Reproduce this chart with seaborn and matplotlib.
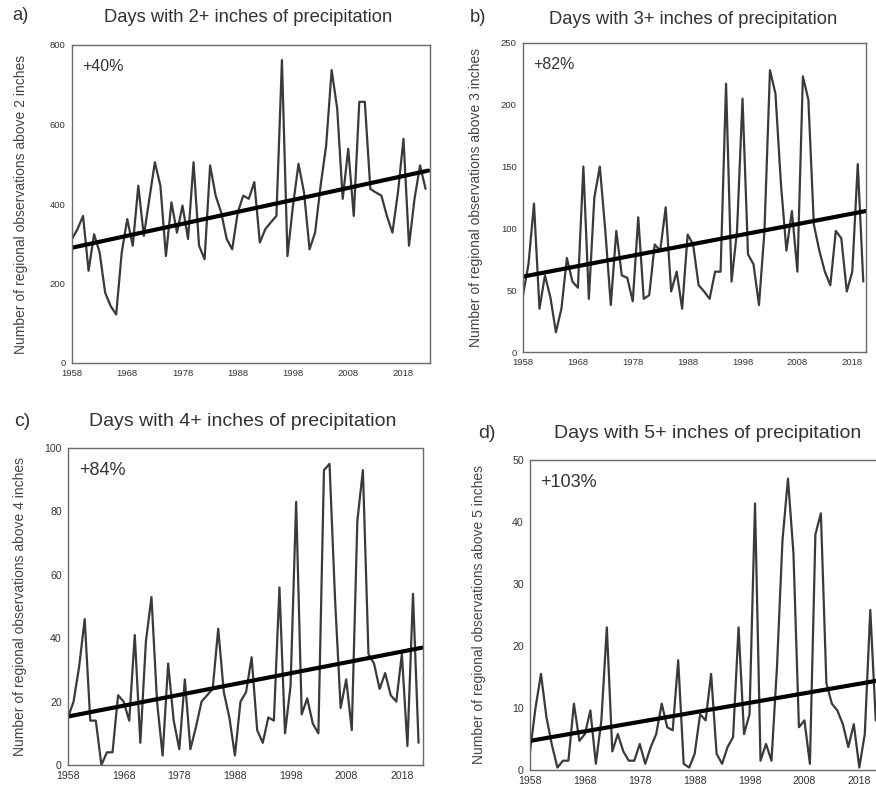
import numpy as np
import pandas as pd
import matplotlib
matplotlib.use("Agg")
import matplotlib.pyplot as plt
import seaborn as sns

# ---------------- data ----------------
years_a = list(range(1958, 2023))
days_2in = [312, 337, 370, 232, 324, 278, 177, 143, 122, 278,
            362, 295, 446, 320, 413, 505, 446, 269, 404, 328,
            396, 312, 505, 295, 261, 497, 421, 379, 312, 286,
            379, 421, 413, 455, 303, 337, 354, 370, 762, 269,
            396, 501, 429, 286, 328, 446, 547, 737, 640, 413,
            539, 370, 657, 657, 438, 429, 421, 370, 328, 429,
            564, 295, 413, 497, 438]

years_b = list(range(1958, 2021))
days_3in = [46, 71, 120, 35, 62, 44, 16, 35, 76, 57,
            52, 150, 43, 125, 150, 98, 38, 98, 62, 60,
            41, 109, 43, 46, 87, 82, 117, 49, 65, 35,
            95, 87, 54, 49, 43, 65, 65, 217, 57, 98,
            205, 79, 71, 38, 98, 228, 209, 136, 82, 114,
            65, 223, 204, 103, 82, 65, 54, 98, 92, 49,
            65, 152, 57]

years_c = list(range(1958, 2022))
days_4in = [15, 20, 31, 46, 14, 14, 0, 4, 4, 22,
            20, 14, 41, 7, 39, 53, 20, 3, 32, 14,
            5, 27, 5, 12, 20, 22, 24, 43, 23, 15,
            3, 20, 23, 34, 11, 7, 15, 14, 56, 10,
            25, 83, 16, 21, 13, 10, 93, 95, 52, 18,
            27, 11, 77, 93, 35, 32, 24, 29, 22, 20,
            35, 6, 54, 7]

years_d = list(range(1958, 2022))
days_5in = [3, 10, 15.5, 8.5, 4, 0.4, 1.5, 1.5, 10.7, 4.7,
            5.8, 9.6, 1, 8, 23, 3, 5.8, 3, 1.5, 1.5,
            4.2, 1, 3.7, 5.8, 10.7, 6.9, 6.4, 17.7, 1, 0.4,
            2.6, 9, 8, 15.5, 2.6, 1, 3.7, 5.3, 23, 5.8,
            9, 43, 1.5, 4.2, 1.5, 16.6, 37, 47, 35, 6.9,
            8, 1, 38, 41.4, 14, 10.7, 9.6, 7.4, 3.7, 7.4,
            0.4, 5.8, 25.8, 8]

# linear trend end values
trend_years_a = [1958, 2022.5]
trend_a = [290, 484]
trend_years_b = [1958, 2020.4]
trend_b = [61, 114]
trend_years_c = [1958, 2021.6]
trend_c = [15.3, 37]
trend_years_d = [1958, 2022.5]
trend_d = [4.7, 14.6]

titles = ["Days with 2+ inches of precipitation",
          "Days with 3+ inches of precipitation",
          "Days with 4+ inches of precipitation",
          "Days with 5+ inches of precipitation"]
panel_tags = ["a)", "b)", "c)", "d)"]
changes = ["+40%", "+82%", "+84%", "+103%"]
ylabels = ["Number of regional observations above 2 inches",
           "Number of regional observations above 3 inches",
           "Number of regional observations above 4 inches",
           "Number of regional observations above 5 inches"]
xtick_years = [1958, 1968, 1978, 1988, 1998, 2008, 2018]
yticks_a = [0, 200, 400, 600, 800]
yticks_b = [0, 50, 100, 150, 200, 250]
yticks_c = [0, 20, 40, 60, 80, 100]
yticks_d = [0, 10, 20, 30, 40, 50]

# ---------------- figure ----------------
sns.set_theme(style="white")
plt.rcParams['font.family'] = ['Liberation Sans', 'DejaVu Sans']

W, H = 876, 794
fig = plt.figure(figsize=(W / 100, H / 100), dpi=100)
fig.patch.set_facecolor("white")


def add_ax(l, t, r, b):
    return fig.add_axes([l / W, 1 - b / H, (r - l) / W, (b - t) / H])


panels = [
    dict(box=(72, 45, 430, 363), years=years_a, vals=days_2in,
         ty=trend_years_a, tv=trend_a, xlim=(1958, 2022.8), yt=yticks_a,
         title_xy=(248, 17), tag_xy=(12, 15), tfs=13.2, tickfs=6.8,
         ylab_x=21, chg_fs=11.5),
    dict(box=(523, 43, 866, 352), years=years_b, vals=days_3in,
         ty=trend_years_b, tv=trend_b, xlim=(1958, 2020.5), yt=yticks_b,
         title_xy=(693, 19), tag_xy=(470, 18), tfs=13.2, tickfs=6.8,
         ylab_x=476, chg_fs=11.5),
    dict(box=(68, 448, 423, 765), years=years_c, vals=days_4in,
         ty=trend_years_c, tv=trend_c, xlim=(1958, 2021.8), yt=yticks_c,
         title_xy=(243, 422), tag_xy=(14, 422), tfs=14, tickfs=7.6,
         ylab_x=20, chg_fs=13),
    dict(box=(530, 460, 884, 770), years=years_d, vals=days_5in,
         ty=trend_years_d, tv=trend_d, xlim=(1958, 2022.5), yt=yticks_d,
         title_xy=(708, 433), tag_xy=(478, 433), tfs=14, tickfs=7.6,
         ylab_x=479, chg_fs=13),
]

for i, p in enumerate(panels):
    ax = add_ax(*p["box"])
    df = pd.DataFrame({"year": p["years"], "value": p["vals"]})
    sns.lineplot(data=df, x="year", y="value", ax=ax, color="#3a3a3a",
                 linewidth=1.6)
    tdf = pd.DataFrame({"year": p["ty"], "value": p["tv"]})
    sns.lineplot(data=tdf, x="year", y="value", ax=ax, color="black",
                 linewidth=3.0)
    ax.set_xlim(*p["xlim"])
    ax.set_ylim(p["yt"][0], p["yt"][-1])
    ax.set_xticks(xtick_years)
    ax.set_yticks(p["yt"])
    ax.set_xlabel("")
    ax.set_ylabel("")
    for s in ax.spines.values():
        s.set_color("#6a6a6a")
        s.set_linewidth(1.0)
    ax.tick_params(axis="both", direction="out", length=2.5, width=0.8,
                   color="#6a6a6a", labelsize=p["tickfs"], labelcolor="#333333",
                   pad=2)
    ax.text(0.03, 0.955, changes[i], transform=ax.transAxes, ha="left",
            va="top", fontsize=p["chg_fs"], color="#333333")
    l, t, r, b = p["box"]
    fig.text(p["ylab_x"] / W, 1 - ((t + b) / 2) / H, ylabels[i],
             rotation=90, ha="center", va="center", fontsize=10,
             color="#444444")
    fig.text(p["title_xy"][0] / W, 1 - p["title_xy"][1] / H, titles[i],
             ha="center", va="center", fontsize=p["tfs"], color="#333333")
    fig.text(p["tag_xy"][0] / W, 1 - p["tag_xy"][1] / H, panel_tags[i],
             ha="left", va="center", fontsize=p["tfs"], color="#333333")

fig.savefig("out.png", dpi=100, facecolor="white")
